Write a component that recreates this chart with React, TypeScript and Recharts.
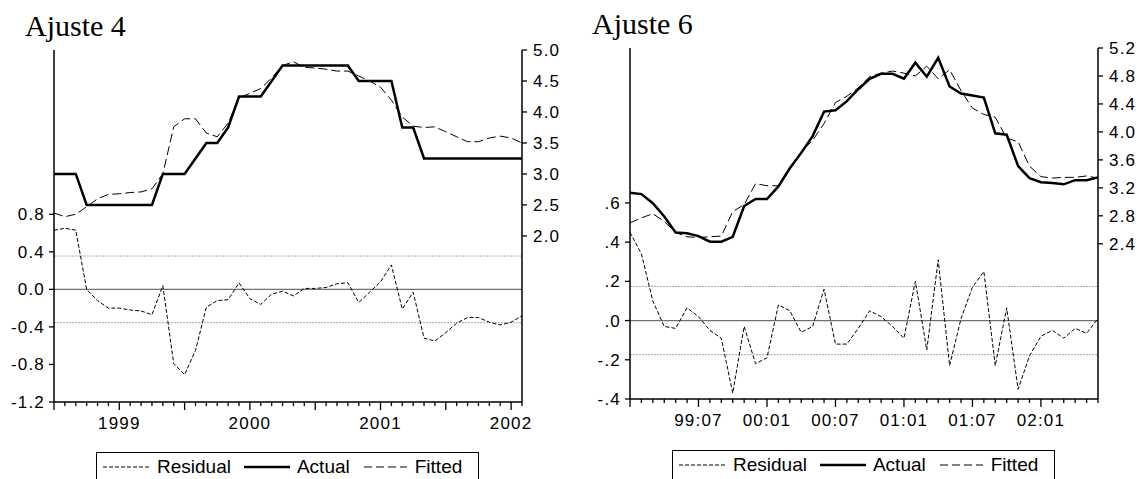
import React from 'react';
import { LineChart, Line, XAxis, YAxis, ReferenceLine } from 'recharts';

// Ajuste 4: monthly, 1999:01 - 2002:08
const LEFT_PERIODS = [
  '1999:01', '1999:02', '1999:03', '1999:04', '1999:05', '1999:06', '1999:07', '1999:08', '1999:09', '1999:10', '1999:11', '1999:12',
  '2000:01', '2000:02', '2000:03', '2000:04', '2000:05', '2000:06', '2000:07', '2000:08', '2000:09', '2000:10', '2000:11', '2000:12',
  '2001:01', '2001:02', '2001:03', '2001:04', '2001:05', '2001:06', '2001:07', '2001:08', '2001:09', '2001:10', '2001:11', '2001:12',
  '2002:01', '2002:02', '2002:03', '2002:04', '2002:05', '2002:06', '2002:07', '2002:08',
];
const LEFT_ACTUAL = [
  3.0, 3.0, 3.0, 2.5, 2.5, 2.5, 2.5, 2.5, 2.5, 2.5, 3.0, 3.0,
  3.0, 3.25, 3.5, 3.5, 3.75, 4.25, 4.25, 4.25, 4.5, 4.75, 4.75, 4.75,
  4.75, 4.75, 4.75, 4.75, 4.5, 4.5, 4.5, 4.5, 3.75, 3.75, 3.25, 3.25,
  3.25, 3.25, 3.25, 3.25, 3.25, 3.25, 3.25, 3.25,
];
const LEFT_FITTED = [
  2.37, 2.31, 2.35, 2.47, 2.6, 2.67, 2.68, 2.7, 2.71, 2.76, 3.0, 3.76,
  3.89, 3.89, 3.66, 3.6, 3.82, 4.23, 4.3, 4.38, 4.55, 4.75, 4.81, 4.72,
  4.71, 4.69, 4.66, 4.66, 4.58, 4.5, 4.4, 4.19, 3.92, 3.77, 3.75, 3.76,
  3.68, 3.6, 3.52, 3.52, 3.58, 3.61, 3.58, 3.5,
];
const LEFT_RESIDUAL = [
  0.63, 0.65, 0.63, 0.0, -0.12, -0.2, -0.2, -0.22, -0.23, -0.27, 0.04, -0.79,
  -0.91, -0.65, -0.19, -0.12, -0.11, 0.07, -0.1, -0.16, -0.05, -0.02, -0.07, 0.01,
  0.01, 0.02, 0.06, 0.07, -0.14, -0.03, 0.08, 0.26, -0.21, -0.03, -0.52, -0.55,
  -0.46, -0.36, -0.3, -0.3, -0.35, -0.38, -0.35, -0.28,
];
const LEFT_LABEL_AT = ['1999:07', '2000:07', '2001:07', '2002:07'];
const LEFT_LABEL_TEXT = ['1999', '2000', '2001', '2002'];
const LEFT_RES_TICKS = [-1.2, -0.8, -0.4, 0, 0.4, 0.8];
const LEFT_ACT_TICKS = [2.0, 2.5, 3.0, 3.5, 4.0, 4.5, 5.0];
const LEFT_SE = 0.355;

// Ajuste 6: monthly, 1999:01 - 2002:06
const RIGHT_PERIODS = [
  '1999:01', '1999:02', '1999:03', '1999:04', '1999:05', '1999:06', '1999:07', '1999:08', '1999:09', '1999:10', '1999:11', '1999:12',
  '2000:01', '2000:02', '2000:03', '2000:04', '2000:05', '2000:06', '2000:07', '2000:08', '2000:09', '2000:10', '2000:11', '2000:12',
  '2001:01', '2001:02', '2001:03', '2001:04', '2001:05', '2001:06', '2001:07', '2001:08', '2001:09', '2001:10', '2001:11', '2001:12',
  '2002:01', '2002:02', '2002:03', '2002:04', '2002:05', '2002:06',
];
const RIGHT_ACTUAL = [
  3.13, 3.11, 2.98, 2.79, 2.56, 2.55, 2.51, 2.43, 2.43, 2.5, 2.94, 3.04,
  3.04, 3.22, 3.48, 3.7, 3.94, 4.29, 4.31, 4.44, 4.61, 4.76, 4.83, 4.83,
  4.76, 4.99, 4.79, 5.06, 4.65, 4.55, 4.52, 4.49, 3.98, 3.96, 3.51, 3.34,
  3.28, 3.27, 3.25, 3.31, 3.31, 3.35,
];
const RIGHT_FITTED = [
  2.7, 2.77, 2.83, 2.72, 2.56, 2.5, 2.49, 2.5, 2.51, 2.86, 2.96, 3.26,
  3.23, 3.23, 3.46, 3.72, 3.88, 4.12, 4.42, 4.51, 4.63, 4.79, 4.84, 4.87,
  4.84, 4.8, 4.94, 4.76, 4.89, 4.59, 4.34, 4.25, 4.21, 3.91, 3.86, 3.51,
  3.36, 3.34, 3.35, 3.35, 3.37, 3.34,
];
const RIGHT_RESIDUAL = [
  0.45, 0.34, 0.1, -0.03, -0.04, 0.065, 0.02, -0.05, -0.09, -0.37, -0.03, -0.22,
  -0.19, 0.08, 0.05, -0.06, -0.03, 0.16, -0.12, -0.12, -0.04, 0.05, 0.02, -0.03,
  -0.09, 0.2, -0.15, 0.31, -0.23, 0.01, 0.17, 0.25, -0.23, 0.065, -0.35, -0.18,
  -0.08, -0.05, -0.09, -0.04, -0.065, 0.01,
];
const RIGHT_LABEL_AT = ['1999:07', '2000:01', '2000:07', '2001:01', '2001:07', '2002:01'];
const RIGHT_LABEL_TEXT = ['99:07', '00:01', '00:07', '01:01', '01:07', '02:01'];
const RIGHT_RES_TICKS = [-0.4, -0.2, 0, 0.2, 0.4, 0.6];
const RIGHT_ACT_TICKS = [2.4, 2.8, 3.2, 3.6, 4.0, 4.4, 4.8, 5.2];
const RIGHT_SE = 0.174;

const SANS = 'Liberation Sans, Arial, sans-serif';
const SERIF = 'Liberation Serif, Times New Roman, serif';

const tickStyle = { fill: '#000', fontSize: 17, fontFamily: SANS, letterSpacing: 1.2 };

function makeXTick(periods: string[], labelAt: string[], labelText: string[]) {
  return (props: any) => {
    const { x, y, payload } = props;
    const p = periods[payload.value];
    if (!p) return null;
    const k = labelAt.indexOf(p);
    const m = p.slice(5);
    const long = m === '01' || m === '07';
    return (
      <g>
        <line x1={x} x2={x} y1={y} y2={y + (long ? 8 : 4)} stroke="#000" strokeWidth={1.3} />
        {k >= 0 && (
          <text x={x} y={y + 27} textAnchor="middle" {...tickStyle}>
            {labelText[k]}
          </text>
        )}
      </g>
    );
  };
}

interface PanelProps {
  title: string;
  left: number;
  width: number;
  margin: { top: number; right: number; bottom: number; left: number };
  periods: string[];
  actual: number[];
  fitted: number[];
  residual: number[];
  labelAt: string[];
  labelText: string[];
  resDomain: [number, number];
  resTicks: number[];
  resFormat: (v: number) => string;
  actDomain: [number, number];
  actTicks: number[];
  se: number;
  titleX: number;
  titleY: number;
  legendLeft: number;
  legendTop: number;
}

function LegendSample({ kind, width }: { kind: 'res' | 'act' | 'fit'; width: number }) {
  const dash = kind === 'res' ? '4 2' : kind === 'fit' ? '8 4' : undefined;
  return (
    <svg width={width} height={10} style={{ display: 'block' }}>
      <line
        x1={0}
        x2={width}
        y1={5}
        y2={5}
        stroke="#000"
        strokeWidth={kind === 'act' ? 2.5 : 1}
        strokeDasharray={dash}
      />
    </svg>
  );
}

function Panel(p: PanelProps) {
  const n = p.periods.length;
  const data = p.periods.map((period, i) => ({
    idx: i,
    period,
    actual: p.actual[i],
    fitted: p.fitted[i],
    residual: p.residual[i],
  }));
  const idxTicks = p.periods.map((_, i) => i);
  const XTick = makeXTick(p.periods, p.labelAt, p.labelText);
  const axisLine = { stroke: '#000', strokeWidth: 1.5 };

  return (
    <div style={{ position: 'absolute', left: p.left, top: 0, width: p.width, height: 479 }}>
      <div
        style={{
          position: 'absolute',
          left: p.titleX,
          top: p.titleY,
          fontFamily: SERIF,
          fontSize: 30,
          lineHeight: '30px',
          color: '#000',
        }}
      >
        {p.title}
      </div>
      <LineChart width={p.width} height={479} data={data} margin={p.margin}>
        <XAxis
          xAxisId="b"
          dataKey="idx"
          type="number"
          domain={[0, n - 1]}
          ticks={idxTicks}
          interval={0}
          tickSize={0}
          tickMargin={0}
          tickLine={false}
          tick={XTick}
          axisLine={axisLine}
          height={30}
        />
        <XAxis
          xAxisId="t"
          orientation="top"
          dataKey="idx"
          type="number"
          domain={[0, n - 1]}
          tick={false}
          tickLine={false}
          axisLine={axisLine}
          height={0}
        />
        <YAxis
          yAxisId="res"
          orientation="left"
          type="number"
          domain={p.resDomain}
          ticks={p.resTicks}
          interval={0}
          allowDataOverflow
          tickFormatter={p.resFormat}
          tick={tickStyle}
          tickSize={5}
          tickMargin={4}
          tickLine={{ stroke: '#000', strokeWidth: 1.3 }}
          axisLine={axisLine}
          width={40}
        />
        <YAxis
          yAxisId="act"
          orientation="right"
          type="number"
          domain={p.actDomain}
          ticks={p.actTicks}
          interval={0}
          allowDataOverflow
          tickFormatter={(v: number) => v.toFixed(1)}
          tick={{ ...tickStyle, textAnchor: 'start' }}
          tickSize={5}
          tickMargin={6}
          tickLine={{ stroke: '#000', strokeWidth: 1.3 }}
          axisLine={axisLine}
          width={45}
        />
        <ReferenceLine xAxisId="b" yAxisId="res" y={p.se} stroke="#a8a8a8" strokeDasharray="2 1" />
        <ReferenceLine xAxisId="b" yAxisId="res" y={-p.se} stroke="#a8a8a8" strokeDasharray="2 1" />
        <ReferenceLine xAxisId="b" yAxisId="res" y={0} stroke="#707070" strokeWidth={1.2} />
        <Line
          xAxisId="b"
          yAxisId="res"
          dataKey="residual"
          stroke="#000"
          strokeWidth={1}
          strokeDasharray="4 2"
          dot={false}
          type="linear"
          isAnimationActive={false}
        />
        <Line
          xAxisId="b"
          yAxisId="act"
          dataKey="fitted"
          stroke="#000"
          strokeWidth={1}
          strokeDasharray="9 4"
          dot={false}
          type="linear"
          isAnimationActive={false}
        />
        <Line
          xAxisId="b"
          yAxisId="act"
          dataKey="actual"
          stroke="#000"
          strokeWidth={2.5}
          dot={false}
          type="linear"
          isAnimationActive={false}
        />
      </LineChart>
      <div
        style={{
          position: 'absolute',
          left: p.legendLeft,
          top: p.legendTop,
          width: 383,
          height: 40,
          boxSizing: 'border-box',
          border: '1.5px solid #000',
          display: 'flex',
          alignItems: 'flex-start',
          paddingTop: 3,
          paddingLeft: 6,
          fontFamily: SANS,
          fontSize: 19,
          lineHeight: '22px',
          color: '#000',
        }}
      >
        <span style={{ display: 'flex', alignItems: 'center' }}>
          <LegendSample kind="res" width={48} />
          <span style={{ marginLeft: 6 }}>Residual</span>
        </span>
        <span style={{ display: 'flex', alignItems: 'center', marginLeft: 13 }}>
          <LegendSample kind="act" width={46} />
          <span style={{ marginLeft: 7 }}>Actual</span>
        </span>
        <span style={{ display: 'flex', alignItems: 'center', marginLeft: 14 }}>
          <LegendSample kind="fit" width={43} />
          <span style={{ marginLeft: 8 }}>Fitted</span>
        </span>
      </div>
    </div>
  );
}

export default function App() {
  return (
    <div
      style={{
        position: 'absolute',
        left: 0,
        top: 0,
        width: 1148,
        height: 479,
        overflow: 'hidden',
        background: '#fff',
      }}
    >
      <Panel
        title="Ajuste 4"
        left={0}
        width={580}
        margin={{ top: 50, right: 13, bottom: 47, left: 14 }}
        periods={LEFT_PERIODS}
        actual={LEFT_ACTUAL}
        fitted={LEFT_FITTED}
        residual={LEFT_RESIDUAL}
        labelAt={LEFT_LABEL_AT}
        labelText={LEFT_LABEL_TEXT}
        resDomain={[-1.2, 2.55]}
        resTicks={LEFT_RES_TICKS}
        resFormat={(v: number) => v.toFixed(1)}
        actDomain={[-0.68, 5.0]}
        actTicks={LEFT_ACT_TICKS}
        se={LEFT_SE}
        titleX={25}
        titleY={11}
        legendLeft={96}
        legendTop={452}
      />
      <Panel
        title="Ajuste 6"
        left={580}
        width={568}
        margin={{ top: 48, right: 5, bottom: 50, left: 10 }}
        periods={RIGHT_PERIODS}
        actual={RIGHT_ACTUAL}
        fitted={RIGHT_FITTED}
        residual={RIGHT_RESIDUAL}
        labelAt={RIGHT_LABEL_AT}
        labelText={RIGHT_LABEL_TEXT}
        resDomain={[-0.4, 1.39]}
        resTicks={RIGHT_RES_TICKS}
        resFormat={(v: number) => v.toFixed(1).replace('0.', '.')}
        actDomain={[0.18, 5.2]}
        actTicks={RIGHT_ACT_TICKS}
        se={RIGHT_SE}
        titleX={12}
        titleY={9}
        legendLeft={92}
        legendTop={450}
      />
    </div>
  );
}
